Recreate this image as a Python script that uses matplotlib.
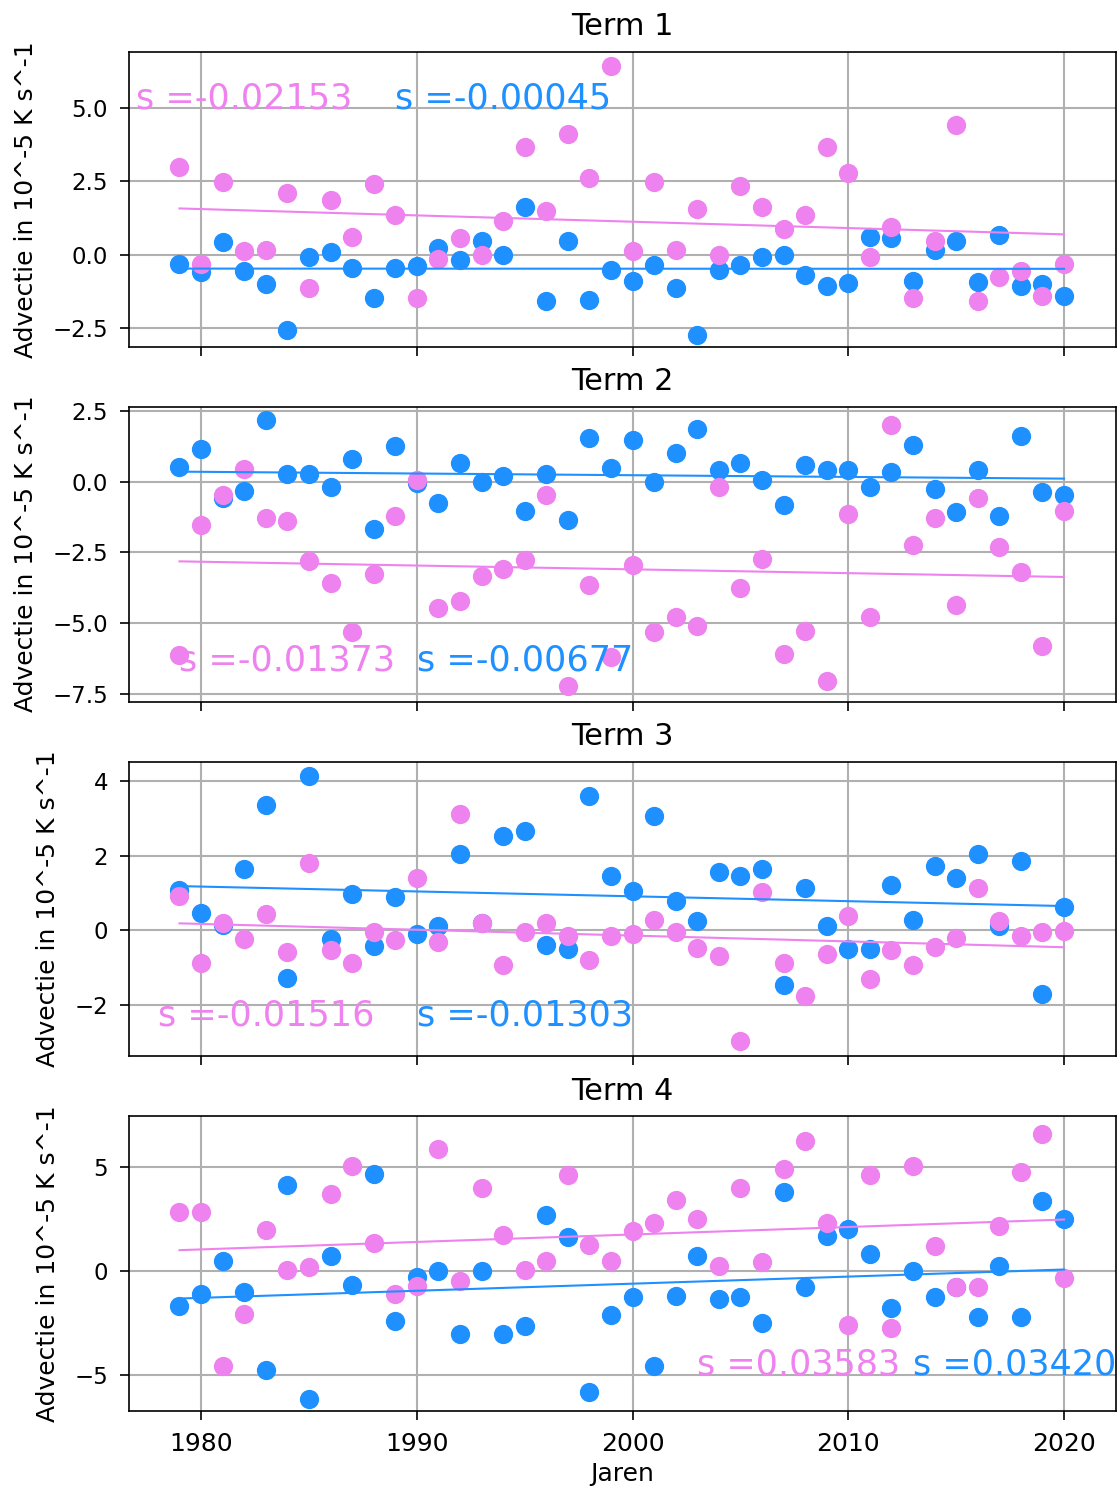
import numpy as np
import matplotlib
matplotlib.use("Agg")
import matplotlib.pyplot as plt
from matplotlib.ticker import MultipleLocator

years = list(range(1979, 2021))

term1_pink = [2.98, -0.31, 2.48, 0.11, 0.17, 2.10, -1.15, 1.87, 0.61, 2.42, 1.36, -1.47, -0.15, 0.55, -0.02, 1.16, 3.67, 1.49, 4.11, 2.61, 6.43,
              0.11, 2.48, 0.17, 1.55, -0.02, 2.36, 1.62, 0.86, 1.36, 3.67, 2.80, -0.09, 0.93, -1.47, 0.47, 4.43, -1.58, -0.78, -0.57, -1.40, -0.32]
term1_blue = [-0.33, -0.60, 0.44, -0.57, -1.02, -2.57, -0.08, 0.09, -0.46, -1.47, -0.46, -0.40, 0.23, -0.19, 0.48, -0.02, 1.61, -1.58, 0.48, -1.56, -0.54,
              -0.89, -0.37, -1.15, -2.76, -0.52, -0.37, -0.08, -0.02, -0.71, -1.08, -0.96, 0.61, 0.55, -0.89, 0.15, 0.47, -0.94, 0.67, -1.08, -1.00, -1.40]

term2_pink = [-6.12, -1.54, -0.48, 0.46, -1.28, -1.40, -2.81, -3.58, -5.30, -3.27, -1.21, 0.06, -4.48, -4.23, -3.34, -3.07, -2.76, -0.46, -7.23, -3.65, -6.20,
              -2.95, -5.30, -4.79, -5.11, -0.18, -3.77, -2.74, -6.09, -5.26, -7.03, -1.14, -4.79, 2.00, -2.22, -1.27, -4.35, -0.56, -2.30, -3.18, -5.82, -1.02]
term2_blue = [0.53, 1.16, -0.56, -0.33, 2.19, 0.26, 0.26, -0.18, 0.82, -1.66, 1.28, -0.06, -0.76, 0.65, 0.00, 0.20, -1.03, 0.26, -1.35, 1.54, 0.48,
              1.47, 0.01, 1.02, 1.87, 0.41, 0.65, 0.08, -0.83, 0.59, 0.41, 0.41, -0.18, 0.34, 1.29, -0.25, -1.07, 0.41, -1.21, 1.61, -0.36, -0.48]

term3_pink = [0.92, -0.87, 0.21, -0.24, 0.44, -0.58, 1.80, -0.53, -0.88, -0.04, -0.25, 1.41, -0.30, 3.12, 0.20, -0.92, -0.04, 0.20, -0.14, -0.79, -0.15,
              -0.10, 0.29, -0.04, -0.48, -0.68, -2.98, 1.02, -0.88, -1.75, -0.64, 0.39, -1.31, -0.54, -0.93, -0.44, -0.21, 1.13, 0.26, -0.15, -0.05, -0.01]
term3_blue = [1.08, 0.48, 0.15, 1.66, 3.36, -1.28, 4.14, -0.24, 0.97, -0.41, 0.89, -0.10, 0.13, 2.05, 0.20, 2.54, 2.67, -0.39, -0.50, 3.61, 1.47,
              1.06, 3.07, 0.78, 0.24, 1.58, 1.47, 1.66, -1.47, 1.13, 0.11, -0.50, -0.50, 1.22, 0.29, 1.72, 1.41, 2.05, 0.11, 1.85, -1.71, 0.64]

term4_pink = [2.86, 2.86, -4.57, -2.04, 1.97, 0.05, 0.22, 3.74, 5.06, 1.38, -1.08, -0.71, 5.86, -0.47, 4.01, 1.73, 0.06, 0.50, 4.62, 1.28, 0.51,
              1.93, 2.34, 3.45, 2.50, 0.24, 4.01, 0.42, 4.90, 6.28, 2.34, -2.57, 4.61, -2.73, 5.06, 1.19, -0.75, -0.75, 2.17, 4.78, 6.61, -0.35]
term4_blue = [-1.69, -1.09, 0.51, -1.00, -4.77, 4.17, -6.15, 0.75, -0.64, 4.69, -2.39, -0.27, 0.00, -3.00, 0.00, -3.00, -2.65, 2.70, 1.64, -5.81, -2.12,
              -1.25, -4.57, -1.17, 0.74, -1.33, -1.25, -2.49, 3.80, -0.74, 1.70, 2.05, 0.85, -1.78, 0.00, -1.25, -0.75, -2.22, 0.24, -2.22, 3.37, 2.50]

titles = ["Term 1", "Term 2", "Term 3", "Term 4"]
pink_series = [term1_pink, term2_pink, term3_pink, term4_pink]
blue_series = [term1_blue, term2_blue, term3_blue, term4_blue]
pink_slopes = [-0.02153, -0.01373, -0.01516, 0.03583]
blue_slopes = [-0.00045, -0.00677, -0.01303, 0.03420]
# annotation anchor positions (data coords)
pink_text_pos = [(1977, 5.0), (1979, -6.68), (1978, -2.56), (2003, -4.95)]
blue_text_pos = [(1989, 5.0), (1990, -6.68), (1990, -2.56), (2013, -4.95)]
ylims = [(-3.15, 6.92), (-7.77, 2.65), (-3.38, 4.53), (-6.73, 7.45)]
ytick_steps = [2.5, 2.5, 2, 5]

PINK = "violet"
BLUE = "dodgerblue"

fig, axes = plt.subplots(4, 1, figsize=(1118 / 150, 1488 / 150), dpi=150, sharex=True)
fig.subplots_adjust(left=0.1154, right=0.9982, top=0.965, bottom=0.0517, hspace=0.204)

x = np.array(years)
for i, ax in enumerate(axes):
    p = np.array(pink_series[i])
    b = np.array(blue_series[i])
    ax.scatter(x, b, s=68, color=BLUE, zorder=2)
    ax.scatter(x, p, s=68, color=PINK, zorder=2)
    cb = np.polyfit(x, b, 1)
    cp = np.polyfit(x, p, 1)
    ax.plot(x, np.polyval(cb, x), color=BLUE, lw=1.0, zorder=3)
    ax.plot(x, np.polyval(cp, x), color=PINK, lw=1.0, zorder=3)
    ax.text(pink_text_pos[i][0], pink_text_pos[i][1], "s ={:.5f}".format(pink_slopes[i]),
            color=PINK, fontsize=16.8)
    ax.text(blue_text_pos[i][0], blue_text_pos[i][1], "s ={:.5f}".format(blue_slopes[i]),
            color=BLUE, fontsize=16.8)
    ax.set_title(titles[i], fontsize=14.5, pad=8)
    ax.set_ylabel("Advectie in 10^-5 K s^-1", fontsize=12, labelpad=7)
    ax.grid(True, color="#b0b0b0", lw=1.0)
    ax.set_axisbelow(True)
    ax.yaxis.set_major_locator(MultipleLocator(ytick_steps[i]))
    ax.set_ylim(*ylims[i])
    ax.tick_params(axis="y", labelsize=11, length=4.5, pad=5.5)
    ax.tick_params(axis="x", labelsize=12, length=4.5, pad=5.5)
    ax.set_xlim(1976.66, 2022.41)

axes[-1].set_xlabel("Jaren", fontsize=12, labelpad=3)
fig.savefig("out.png", dpi=150)
